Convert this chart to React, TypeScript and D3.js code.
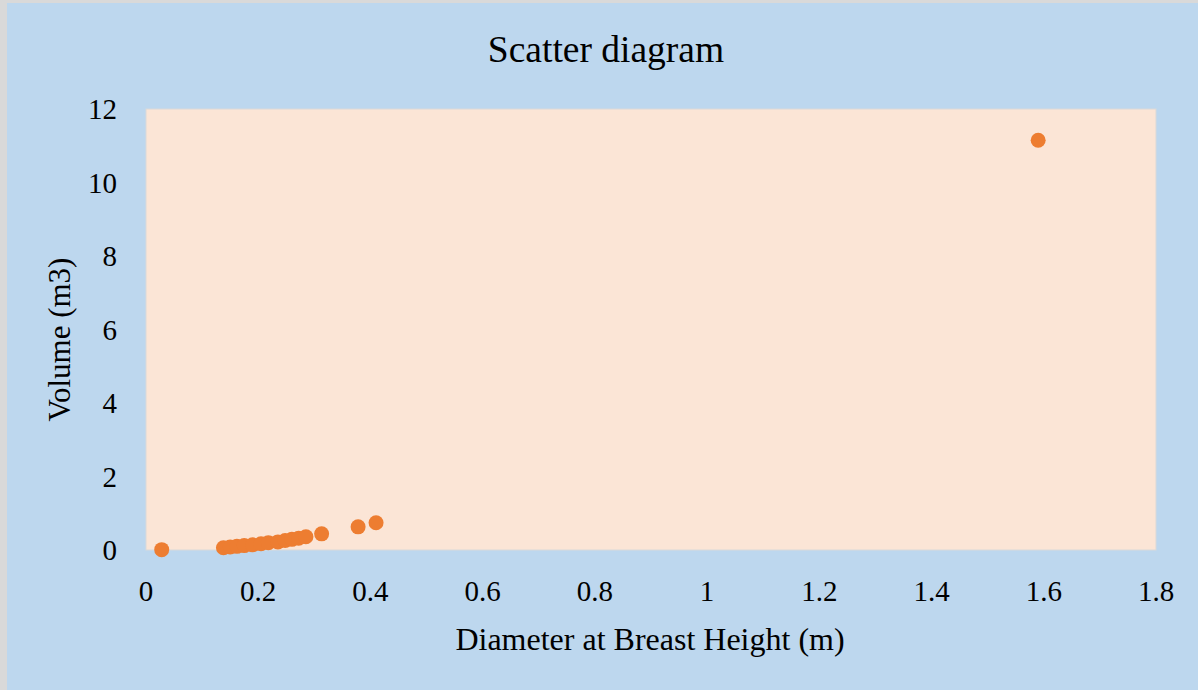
import * as d3 from 'd3';
import React from 'react';

// values
const dbh = [0.028, 0.138, 0.15, 0.162, 0.175, 0.19, 0.205, 0.218, 0.235, 0.248, 0.26, 0.272, 0.285, 0.313, 0.378, 0.41, 1.59];
const volume = [0.01, 0.06, 0.08, 0.1, 0.12, 0.14, 0.17, 0.2, 0.22, 0.26, 0.29, 0.32, 0.36, 0.44, 0.63, 0.74, 11.15];
const xTicks = [0, 0.2, 0.4, 0.6, 0.8, 1, 1.2, 1.4, 1.6, 1.8];
const yTicks = [0, 2, 4, 6, 8, 10, 12];

const W = 1198;
const H = 690;
const font = '"Liberation Serif", "Times New Roman", serif';

export default function App() {
  const plot = { left: 146, top: 109, right: 1156, bottom: 550 };

  const x = d3.scaleLinear().domain([0, 1.8]).range([plot.left, plot.right]);
  const y = d3.scaleLinear().domain([0, 12]).range([plot.bottom, plot.top]);

  const points = dbh.map((d, i) => ({ d, v: volume[i] }));

  return (
    <svg
      width={W}
      height={H}
      style={{ position: 'absolute', left: 0, top: 0, display: 'block' }}
    >
      <rect x={0} y={0} width={W} height={H} fill="#d9d9d9" />
      <rect x={7} y={3} width={W - 7} height={H - 3} fill="#bdd7ee" />

      {/* plot area */}
      <rect
        x={plot.left}
        y={plot.top}
        width={plot.right - plot.left}
        height={plot.bottom - plot.top}
        fill="#fbe5d6"
        stroke="#d9d9d9"
        strokeWidth={1}
      />

      <text x={606} y={62} textAnchor="middle" fontFamily={font} fontSize={37.5} fill="#000">
        Scatter diagram
      </text>

      {/* y ticks */}
      {yTicks.map(t => (
        <text
          key={'y' + t}
          x={117}
          y={y(t)}
          dy="0.35em"
          textAnchor="end"
          fontFamily={font}
          fontSize={29}
          fill="#000"
        >
          {t}
        </text>
      ))}

      {/* x ticks */}
      {xTicks.map(t => (
        <text
          key={'x' + t}
          x={x(t)}
          y={601}
          textAnchor="middle"
          fontFamily={font}
          fontSize={29}
          fill="#000"
        >
          {d3.format('~g')(t)}
        </text>
      ))}

      <text x={650} y={650} textAnchor="middle" fontFamily={font} fontSize={32} fill="#000">
        Diameter at Breast Height (m)
      </text>
      <text
        transform={`translate(70,${(plot.top + plot.bottom) / 2 + 10}) rotate(-90)`}
        textAnchor="middle"
        fontFamily={font}
        fontSize={31}
        fill="#000"
      >
        Volume (m3)
      </text>

      {points.map((p, i) => (
        <circle key={i} cx={x(p.d)} cy={y(p.v)} r={7.5} fill="#ed7d31" />
      ))}
    </svg>
  );
}
